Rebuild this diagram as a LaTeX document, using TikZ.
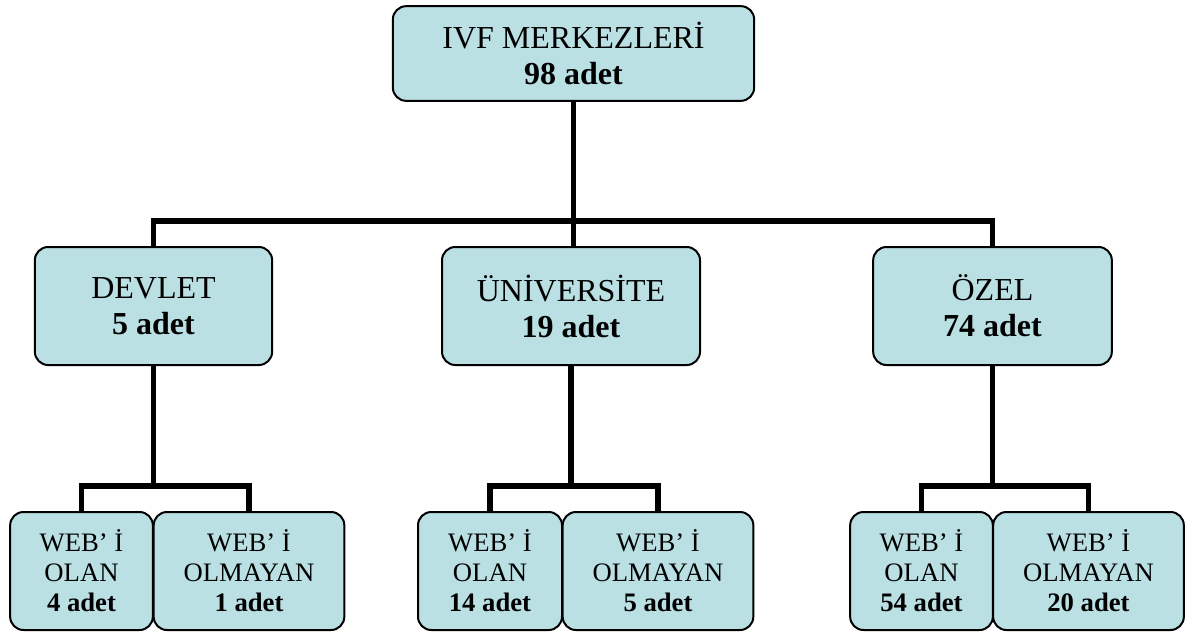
\documentclass[tikz,border=0pt]{standalone}
\usepackage{fontspec}
\setmainfont{Liberation Serif}
\usepackage{tikz}

\definecolor{boxblue}{RGB}{186,224,228}

\begin{document}
\begin{tikzpicture}[x=0.75pt, y=-0.75pt,
        box/.style={draw, line width=1.5pt, fill=boxblue, rounded corners=10pt, align=center, inner sep=0pt},
        big/.style={box, font=\fontsize{24}{27}\selectfont, minimum height=88.5pt},
        small/.style={box, font=\fontsize{20}{22.5}\selectfont, minimum height=88.5pt},
        conn/.style={line width=4.2pt}]
        \useasboundingbox (0,0) rectangle (1194,635);

        \node[box, font=\fontsize{24}{26.5}\selectfont, minimum width=271pt, minimum height=71pt] (ivf) at (573.5, 53.5) {IVF MERKEZLERİ\\\textbf{98 adet}};

        \node[big, minimum width=178pt] (devlet) at (153.5, 306) {DEVLET\\\textbf{5 adet}};
        \node[big, minimum width=193.5pt] (uni) at (571, 306) {ÜNİVERSİTE\\\textbf{19 adet}};
        \node[big, minimum width=179pt] (ozel) at (992.5, 306) {ÖZEL\\\textbf{74 adet}};

        \node[small, minimum width=107pt] (dolan) at (81.5, 571) {WEB’ İ\\OLAN\\\textbf{4 adet}};
        \node[small, minimum width=143pt] (dyok) at (249, 571) {WEB’ İ\\OLMAYAN\\\textbf{1 adet}};
        \node[small, minimum width=108pt] (uolan) at (490, 571) {WEB’ İ\\OLAN\\\textbf{14 adet}};
        \node[small, minimum width=143pt] (uyok) at (658, 571) {WEB’ İ\\OLMAYAN\\\textbf{5 adet}};
        \node[small, minimum width=107pt] (oolan) at (921.5, 571) {WEB’ İ\\OLAN\\\textbf{54 adet}};
        \node[small, minimum width=143pt] (oyok) at (1088.5, 571) {WEB’ İ\\OLMAYAN\\\textbf{20 adet}};

        \draw[conn] (ivf.south) to (ivf.south |- uni.north)
            (devlet.north) -- ++(0,-25) -| (ozel.north);

        \draw[conn] (devlet.south) -- ++(0,122)
            (dolan.north) -- ++(0,-25) -| (dyok.north);
        \draw[conn] (uni.south) -- ++(0,122)
            (uolan.north) -- ++(0,-25) -| (uyok.north);
        \draw[conn] (ozel.south) -- ++(0,122)
            (oolan.north) -- ++(0,-25) -| (oyok.north);
    \end{tikzpicture}
\end{document}
